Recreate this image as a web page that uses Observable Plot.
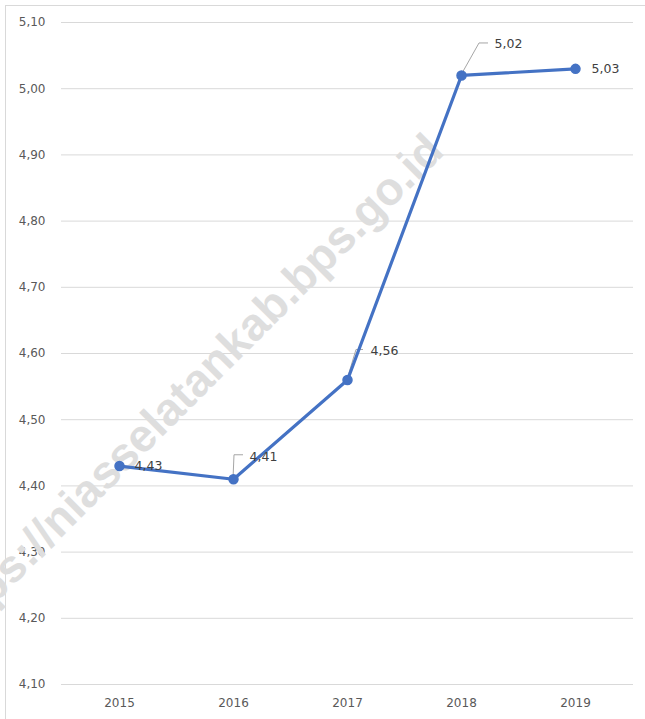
<!DOCTYPE html>
<html><head><meta charset="utf-8">
<script src="https://cdn.jsdelivr.net/npm/d3@7"></script>
<script src="https://cdn.jsdelivr.net/npm/@observablehq/plot@0.6"></script>
<style>
body{margin:0;background:#fff;overflow:hidden}
#wrap{position:relative;width:645px;height:719px;overflow:hidden}
#border{position:absolute;left:5px;top:5px;width:700px;height:800px;border:1px solid #d9d9d9;box-sizing:border-box}
#chart{position:absolute;left:0;top:0}
</style></head><body>
<div id="wrap"><div id="border"></div><div id="chart"></div></div>
<script>
const years = ["2015", "2016", "2017", "2018", "2019"];
const values = [4.43, 4.41, 4.56, 5.02, 5.03];
const yTicks = [4.1, 4.2, 4.3, 4.4, 4.5, 4.6, 4.7, 4.8, 4.9, 5.0, 5.1];
const watermark = "https://niasselatankab.bps.go.id";

const fmt = v => d3.format(".2f")(v).replace(".", ",");
const data = years.map((year, i) => ({year, value: values[i], label: fmt(values[i])}));

// label placement (pixel offsets from each point) and leader lines
const labelLayout = [
  {dx: 15, dy: 0, leader: null},
  {dx: 16, dy: -22, leader: [[1, -24], [10, -24]]},
  {dx: 23, dy: -29, leader: [[9, -30], [16, -30]]},
  {dx: 33, dy: -31, leader: [[18, -32], [27, -32]]},
  {dx: 16, dy: 0, leader: null}
];

const font = "DejaVu Sans, Verdana, sans-serif";

const plot = Plot.plot({
  width: 645,
  height: 719,
  marginLeft: 61,
  marginRight: 12,
  marginTop: 22,
  marginBottom: 35,
  style: {fontFamily: font, fontSize: "12px", color: "#595959", background: "transparent"},
  x: {type: "point", domain: years, padding: 0.5, label: null},
  y: {domain: [4.1, 5.1], label: null},
  marks: [
    Plot.gridY(yTicks, {stroke: "#d9d9d9", strokeOpacity: 1, strokeWidth: 1}),
    Plot.axisY(yTicks, {tickSize: 0, tickPadding: 16, tickFormat: fmt, fill: "#595959", fontSize: 12}),
    Plot.axisX({tickSize: 0, tickPadding: 14, fill: "#595959", fontSize: 12}),
    Plot.line(data, {x: "year", y: "value", stroke: "#4472C4", strokeWidth: 3.2, strokeLinejoin: "round"}),
    Plot.dot(data, {x: "year", y: "value", r: 4.5, fill: "#4472C4", stroke: "#4472C4"}),
    ...data.map((d, i) => Plot.text([d], {
      x: "year", y: "value", text: "label",
      dx: labelLayout[i].dx, dy: labelLayout[i].dy,
      textAnchor: "start", fill: "#404040", fontSize: 12.5
    }))
  ]
});

document.getElementById("chart").appendChild(plot);

const svg = d3.select(plot);
const xs = plot.scale("x"), ys = plot.scale("y");

// watermark (below the line)
const wm = svg.insert("g", '[aria-label="line"]');
wm.append("text")
  .attr("transform", "translate(446,153) rotate(-45)")
  .attr("text-anchor", "end")
  .attr("font-family", "Liberation Sans, Arial, sans-serif")
  .attr("font-weight", "bold")
  .attr("font-size", 46)
  .attr("fill", "#dedede")
  .text(watermark);

// leader lines
const lg = svg.insert("g", '[aria-label="line"]');
data.forEach((d, i) => {
  const L = labelLayout[i].leader;
  if (!L) return;
  const px = xs.apply(d.year), py = ys.apply(d.value);
  const pts = [[px, py], ...L.map(([a, b]) => [px + a, py + b])];
  lg.append("path")
    .attr("d", d3.line()(pts))
    .attr("fill", "none")
    .attr("stroke", "#a6a6a6")
    .attr("stroke-width", 1);
});
</script>
</body></html>
